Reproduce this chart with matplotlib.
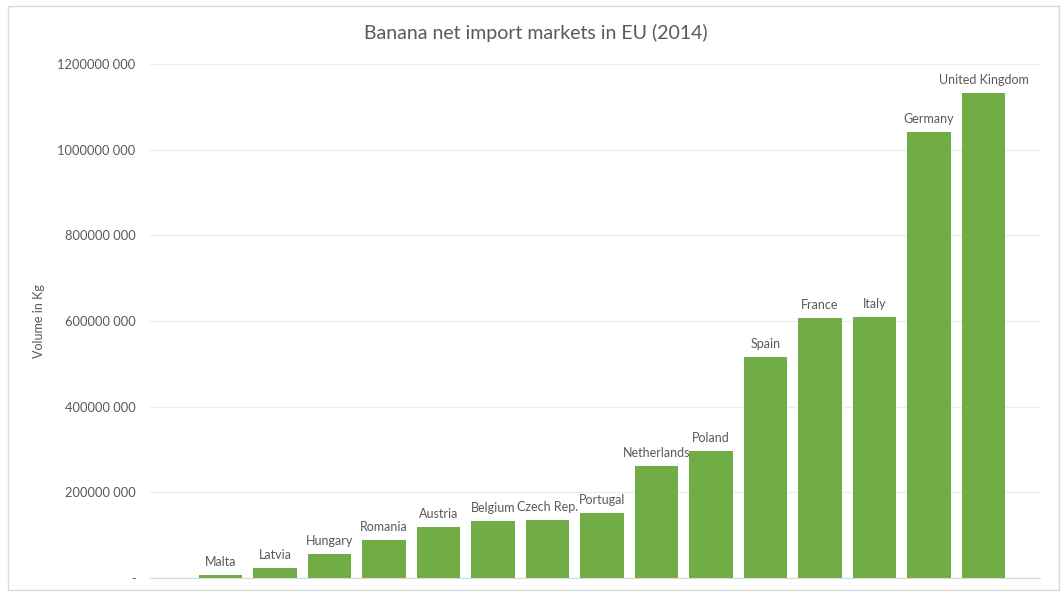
import matplotlib
matplotlib.use("Agg")
import matplotlib.pyplot as plt
from matplotlib.ticker import FuncFormatter
from matplotlib.patches import Rectangle

countries = ['Malta', 'Latvia', 'Hungary', 'Romania', 'Austria', 'Belgium', 'Czech Rep.',
             'Portugal', 'Netherlands', 'Poland', 'Spain', 'France', 'Italy', 'Germany',
             'United Kingdom']
volumes = [7e6, 23e6, 56e6, 89e6, 119e6, 133e6, 135e6, 152e6, 261e6, 296e6,
           516e6, 607e6, 609e6, 1041e6, 1132e6]
yticks = [0, 200e6, 400e6, 600e6, 800e6, 1000e6, 1200e6]

plt.rcParams['font.family'] = ['Lato', 'DejaVu Sans']
grey = '#595959'

fig = plt.figure(figsize=(10.61, 5.93), dpi=100)
ax = fig.add_axes([0.141, 0.0253, 0.839, 0.867])

x = list(range(len(countries)))
bars = ax.bar(x, volumes, width=0.8, color='#70AD47', zorder=2)
for xi, v, name in zip(x, volumes, countries):
    ax.annotate(name, (xi, v), xytext=(0, 5), textcoords='offset points',
                ha='center', va='bottom', fontsize=9, color=grey)

def fmt(v, pos):
    if v == 0:
        return '-'
    v = int(round(v))
    return '%d %03d' % (v // 1000, v % 1000)

ax.set_ylim(0, 1200e6)
ax.set_xlim(-1.3, 15.03)
ax.set_yticks(yticks)
ax.yaxis.set_major_formatter(FuncFormatter(fmt))
ax.set_xticks([])
ax.tick_params(axis='y', length=0, labelsize=9.3, labelcolor=grey, pad=10)
ax.grid(axis='y', color='#EDEDED', linewidth=1, zorder=0)
for s in ['top', 'right', 'left']:
    ax.spines[s].set_visible(False)
ax.spines['bottom'].set_color('#D9D9D9')

ax.set_ylabel('Volume in Kg', fontsize=9, color=grey, labelpad=9)
fig.text(0.505, 0.945, 'Banana net import markets in EU (2014)', ha='center', va='center',
         fontsize=14, color=grey)

fig.patches.append(Rectangle((0.008, 0.005), 0.99, 0.985, transform=fig.transFigure,
                             fill=False, edgecolor='#D9D9D9', linewidth=1))

fig.savefig('out.png', dpi=100)
